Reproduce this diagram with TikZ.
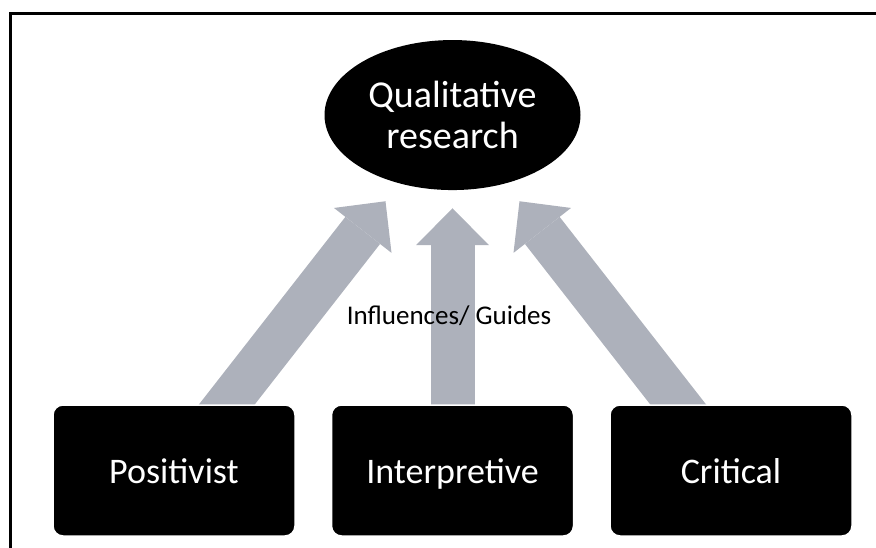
\documentclass[tikz,border=0pt]{standalone}
\usepackage{fontspec}
\setmainfont{Carlito}
\usetikzlibrary{positioning,shapes.geometric,arrows.meta}

\definecolor{arrowgray}{RGB}{173,177,187}

\tikzset{
  paradigm/.style={rectangle, rounded corners=10pt, fill=black, draw=white,
    line width=1.5pt, minimum width=242pt, minimum height=131pt,
    text=white, text height=32pt, text depth=7pt,
    font=\fontsize{36}{41}\selectfont},
  topic/.style={ellipse, fill=black, minimum width=256pt, minimum height=150pt,
    inner sep=0pt, text=white, align=center,
    font=\fontsize{38}{41}\selectfont},
  influence/.style={arrowgray, line width=44pt,
    -{Triangle[width=73pt, length=37pt, line width=0pt]}},
}

\begin{document}
\begin{tikzpicture}[x=1pt, y=-1pt, node distance=35pt]
    \useasboundingbox (0,0) rectangle (876,548);
    \draw[line width=3pt] (10,548) -- (10,14) -- (876,14);

    \node[paradigm]                      (pos)    at (174,470.5) {Positivist};
    \node[paradigm, right=of pos]        (interp) {Interpretive};
    \node[paradigm, right=of interp]     (crit)   {Critical};
    \node[topic, above=214pt of interp]  (qual)   {Qualitative\\research};

    \coordinate (pos-out)  at ([xshift=53pt]pos.north);
    \coordinate (crit-out) at ([xshift=-53pt]crit.north);
    \coordinate (int-out)  at (interp.north);
    \coordinate (qual-l)   at ([xshift=-67pt, yshift=-11pt]qual.south);
    \coordinate (qual-r)   at ([xshift=67pt, yshift=-11pt]qual.south);
    \coordinate (qual-m)   at ([yshift=-18pt]qual.south);

    \draw[influence, shorten <=-20pt] (pos-out) -- (qual-l);
    \draw[influence, shorten <=-20pt] (int-out) -- (qual-m);
    \draw[influence, shorten <=-20pt] (crit-out) -- (qual-r);

    % boxes again on top of the arrow ends
    \node[paradigm] at (pos)    {Positivist};
    \node[paradigm] at (interp) {Interpretive};
    \node[paradigm] at (crit)   {Critical};

    \node[anchor=base, font=\fontsize{27}{32}\selectfont] (guide) at (449,324) {Influences/ Guides};
\end{tikzpicture}
\end{document}
